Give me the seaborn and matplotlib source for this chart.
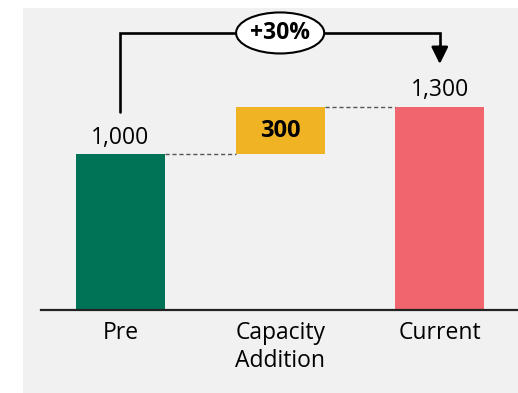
import matplotlib
matplotlib.use("Agg")
import matplotlib.pyplot as plt
from matplotlib.patches import Ellipse, Rectangle
import seaborn as sns
import pandas as pd

# Waterfall inputs
categories = ["Pre", "Capacity\nAddition", "Current"]
bases = [0, 1000, 0]
heights = [1000, 300, 1300]
value_labels = ["1,000", "300", "1,300"]
bar_colors = ["#007256", "#F0B323", "#F0656E"]
change_label = "+30%"

sns.set_theme(style="white")
plt.rcParams["font.family"] = ["Open Sans", "DejaVu Sans"]
FS = 16.5

fig = plt.figure(figsize=(5.18, 3.93), dpi=100)
fig.patch.set_facecolor("white")
# light grey panel behind the chart
fig.add_artist(Rectangle((23 / 518, 0), 495 / 518, 385 / 393,
                         transform=fig.transFigure, facecolor="#F1F1F1",
                         edgecolor="none", zorder=-1))

ax = fig.add_axes([41 / 518, 83 / 393, 477 / 518, 302 / 393])
ax.set_facecolor("none")

df = pd.DataFrame({"category": categories, "height": heights, "base": bases})
sns.barplot(data=df, x="category", y="height", bottom=df["base"].values,
            width=0.558, errorbar=None, ax=ax, saturation=1,
            color=bar_colors[0])
for patch, c in zip(ax.patches, bar_colors):
    patch.set_facecolor(c)
    patch.set_edgecolor("none")

ax.set_xlim(-0.498, 2.49)
ax.set_ylim(0, 1936)
ax.set_xlabel("")
ax.set_ylabel("")
ax.set_yticks([])
for s in ["top", "left", "right"]:
    ax.spines[s].set_visible(False)
ax.spines["bottom"].set_color("#222222")
ax.spines["bottom"].set_linewidth(1.6)
ax.tick_params(axis="x", length=0, pad=8, labelsize=FS, labelcolor="black")
for t in ax.get_xticklabels():
    t.set_linespacing(1.22)

# value labels
tops = [b + h for b, h in zip(bases, heights)]
ax.text(0, tops[0] + 64, value_labels[0], ha="center", va="baseline",
        fontsize=FS, color="black")
ax.text(2, tops[2] + 72, value_labels[2], ha="center", va="baseline",
        fontsize=FS, color="black")
ax.text(1, bases[1] + heights[1] / 2, value_labels[1], ha="center",
        va="center", fontsize=FS + 0.5, fontweight="bold", color="black")

# dashed connectors between bars
hw = 0.558 / 2
ax.plot([0 + hw, 1 - hw], [tops[0], tops[0]], ls=(0, (3, 2)), lw=1,
        color="#555555", zorder=1)
ax.plot([1 + hw, 2 - hw], [tops[1], tops[1]], ls=(0, (3, 2)), lw=1,
        color="#555555", zorder=1)

# growth bracket with arrow
y_br = 1776
ax.plot([0, 0, 2, 2], [1269, y_br, y_br, 1680], color="black", lw=1.9,
        solid_joinstyle="miter", zorder=3)
ax.annotate("", xy=(2, 1577), xytext=(2, 1690),
            arrowprops=dict(arrowstyle="-|>,head_length=0.85,head_width=0.42",
                            color="black", lw=1.9, shrinkA=0, shrinkB=0),
            zorder=3)
ax.add_patch(Ellipse((1, y_br), 0.552, 263, facecolor="white",
                     edgecolor="black", lw=1.5, zorder=4, clip_on=False))
ax.text(1, y_br, change_label, ha="center", va="center", fontsize=FS,
        fontweight="bold", color="black", zorder=5)

fig.savefig("out.png", dpi=100)
